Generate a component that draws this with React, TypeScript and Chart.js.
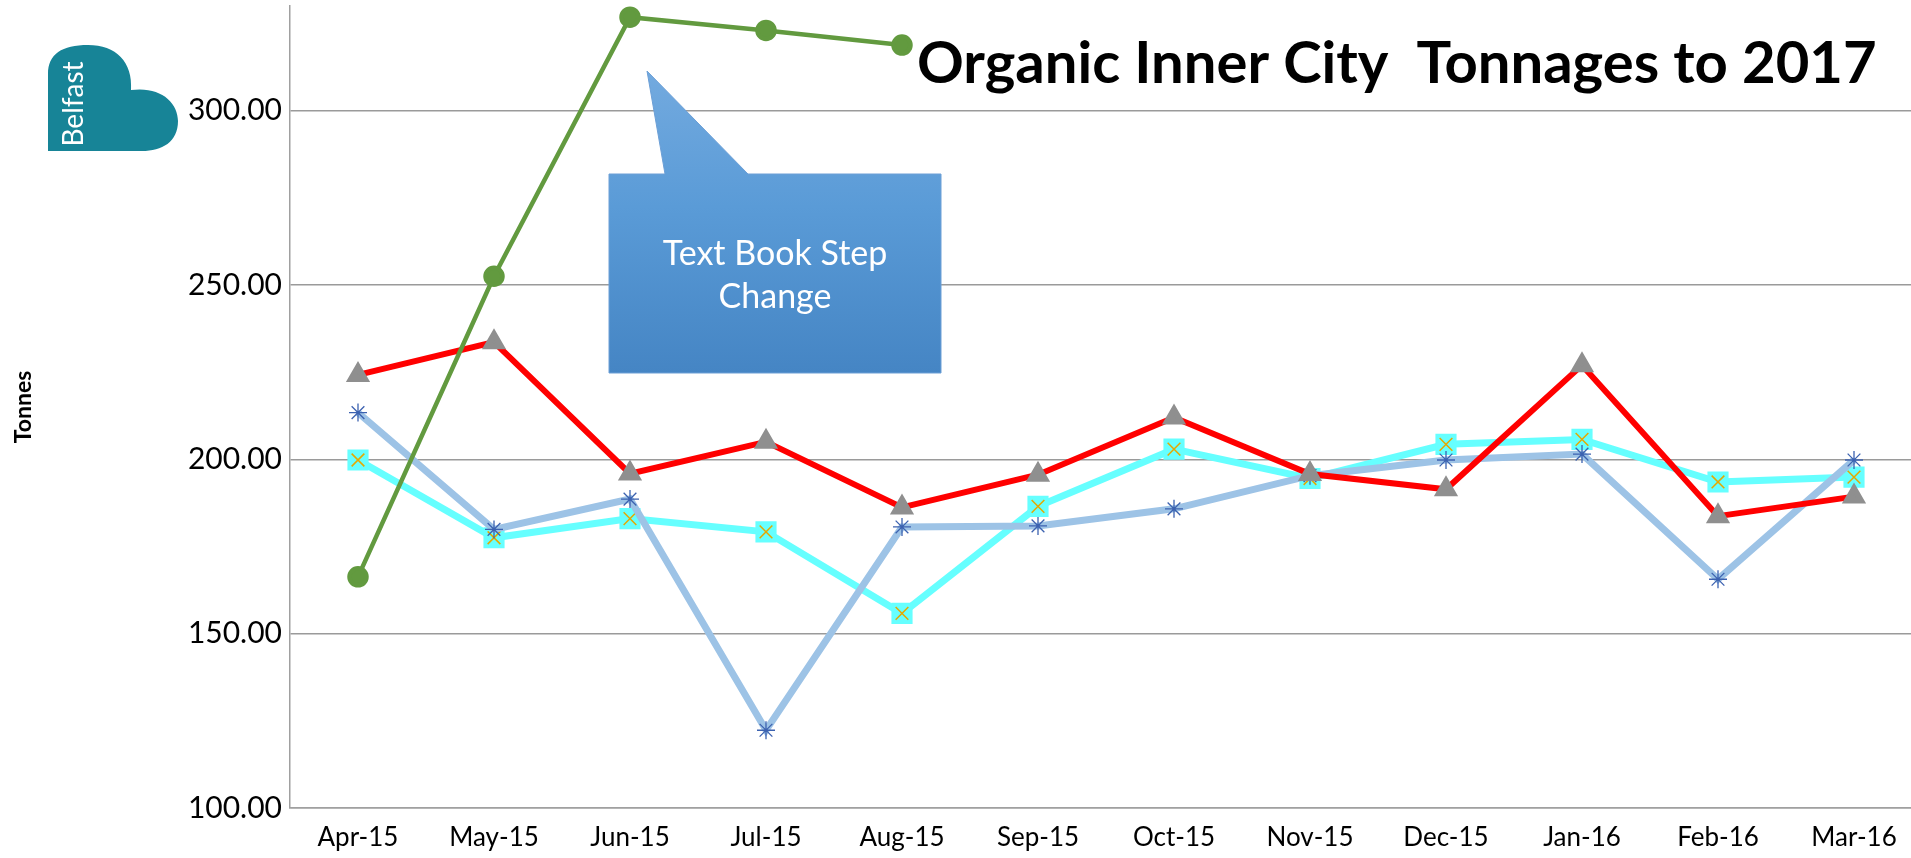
import React, { useEffect, useRef } from "react";
import { Chart, registerables } from "chart.js";

Chart.register(...registerables);

const categories = ["Apr-15", "May-15", "Jun-15", "Jul-15", "Aug-15", "Sep-15", "Oct-15", "Nov-15", "Dec-15", "Jan-16", "Feb-16", "Mar-16"];
const greenSeries = [166.3, 252.5, 326.8, 323.0, 318.8, null, null, null, null, null, null, null];
const redSeries = [224.2, 233.6, 195.9, 205.0, 186.2, 195.6, 212.0, 195.8, 191.4, 227.0, 183.7, 189.3];
const blueSeries = [213.4, 179.9, 188.6, 122.3, 180.6, 180.9, 185.8, 195.3, 199.8, 201.5, 165.6, 199.8];
const cyanSeries = [199.8, 177.5, 183.0, 179.2, 155.8, 186.5, 202.9, 194.5, 204.3, 205.7, 193.5, 194.9];
const yTicks = [100, 150, 200, 250, 300];
const titleText = "Organic Inner City  Tonnages to 2017";
const calloutLines = ["Text Book Step", "Change"];
const axisTitle = "Tonnes";
const logoText = "Belfast";

const FONT = "Lato, Carlito, 'Open Sans', sans-serif";

const overlayPlugin = {
  id: "overlay",
  afterDraw(chart: any) {
    const ctx: CanvasRenderingContext2D = chart.ctx;
    ctx.save();
    // Logo
    ctx.fillStyle = "#178497";
    ctx.beginPath();
    ctx.moveTo(48, 151);
    ctx.lineTo(48, 74);
    ctx.bezierCurveTo(48, 54, 62, 45, 88, 45);
    ctx.bezierCurveTo(116, 45, 133, 62, 131, 90);
    ctx.bezierCurveTo(160, 86, 178, 102, 178, 121);
    ctx.bezierCurveTo(178, 142, 162, 151, 142, 151);
    ctx.closePath();
    ctx.fill();
    ctx.translate(74, 104);
    ctx.rotate(-Math.PI / 2);
    ctx.fillStyle = "#ffffff";
    ctx.font = `28px ${FONT}`;
    ctx.textAlign = "center";
    ctx.textBaseline = "middle";
    ctx.fillText(logoText, 0, 0);
    ctx.restore();

    // Title
    ctx.save();
    ctx.fillStyle = "#000000";
    ctx.font = `bold 58px ${FONT}`;
    ctx.textAlign = "left";
    ctx.textBaseline = "alphabetic";
    ctx.fillText(titleText, 917, 83);
    ctx.restore();

    // Callout
    ctx.save();
    const grad = ctx.createLinearGradient(0, 71, 0, 373);
    grad.addColorStop(0, "#73aadf");
    grad.addColorStop(0.45, "#5a9bd7");
    grad.addColorStop(1, "#4585c4");
    ctx.fillStyle = grad;
    ctx.beginPath();
    ctx.moveTo(609, 174);
    ctx.lineTo(665, 174);
    ctx.lineTo(647, 71);
    ctx.lineTo(748, 174);
    ctx.lineTo(941, 174);
    ctx.lineTo(941, 373);
    ctx.lineTo(609, 373);
    ctx.closePath();
    ctx.fill();
    ctx.strokeStyle = "#6c9fd6";
    ctx.lineWidth = 1;
    ctx.stroke();
    ctx.fillStyle = "#ffffff";
    ctx.font = `34px ${FONT}`;
    ctx.textAlign = "center";
    ctx.textBaseline = "middle";
    ctx.fillText(calloutLines[0], 775, 254);
    ctx.fillText(calloutLines[1], 775, 297);
    ctx.restore();
  },
};

export default function App() {
  const ref = useRef<HTMLCanvasElement | null>(null);
  useEffect(() => {
    document.body.style.margin = "0";
    document.body.style.overflow = "hidden";
    const canvas = ref.current!;
    const chart = new Chart(canvas, {
      type: "line",
      data: {
        labels: categories,
        datasets: [
          {
            label: "Green",
            data: greenSeries,
            borderColor: "#629a3f",
            backgroundColor: "#629a3f",
            borderWidth: 4.5,
            pointStyle: "circle",
            pointRadius: 8.5,
            pointBackgroundColor: "#629a3f",
            pointBorderColor: "#629a3f",
            spanGaps: false,
            clip: false,
          } as any,
          {
            label: "Red",
            data: redSeries,
            borderColor: "#ff0000",
            borderWidth: 6,
            pointStyle: "triangle",
            pointRadius: 8,
            pointBackgroundColor: "#8f8f8f",
            pointBorderColor: "#8f8f8f",
            clip: false,
          } as any,
          {
            label: "Blue",
            data: blueSeries,
            borderColor: "#9dc3e6",
            borderWidth: 7,
            pointStyle: "star",
            pointRadius: 9,
            pointBorderWidth: 1.3,
            pointBackgroundColor: "#3c62b0",
            pointBorderColor: "#3c62b0",
            clip: false,
          } as any,
          {
            label: "CyanX",
            data: cyanSeries,
            showLine: false,
            borderColor: "#e6a800",
            pointStyle: "crossRot",
            pointRadius: 9,
            pointBorderWidth: 1.5,
            pointBorderColor: "#e6a800",
            pointBackgroundColor: "#e6a800",
            clip: false,
          } as any,
          {
            label: "Cyan",
            data: cyanSeries,
            borderColor: "#66ffff",
            borderWidth: 7,
            pointStyle: "rect",
            pointRadius: 10,
            pointBackgroundColor: "#66ffff",
            pointBorderColor: "#66ffff",
            clip: false,
          } as any,
        ],
      },
      options: {
        responsive: false,
        animation: false,
        devicePixelRatio: 1,
        layout: { autoPadding: false, padding: { top: 6, right: 0, left: 0, bottom: 0 } },
        plugins: {
          legend: { display: false },
          title: { display: false },
          tooltip: { enabled: false },
        },
        elements: { line: { tension: 0 } },
        scales: {
          x: {
            type: "category",
            offset: true,
            grid: { display: false, drawTicks: false },
            border: { display: true, color: "#a0a0a0", width: 1.5 },
            ticks: {
              color: "#000000",
              font: { family: FONT, size: 26 },
              padding: 14,
              maxRotation: 0,
              autoSkip: false,
            },
            afterFit: (scale: any) => {
              scale.height = 50;
              scale.paddingLeft = 0;
              scale.paddingRight = 0;
            },
          },
          y: {
            min: 100,
            max: 330,
            grid: { color: "#9a9a9a", lineWidth: 1.5, drawTicks: false },
            border: { display: true, color: "#a0a0a0", width: 1.5 },
            afterBuildTicks: (scale: any) => {
              scale.ticks = yTicks.map((v) => ({ value: v }));
            },
            ticks: {
              color: "#000000",
              font: { family: FONT, size: 30 },
              padding: 8,
              callback: (v: any) => Number(v).toFixed(2),
            },
            title: {
              display: true,
              text: axisTitle,
              color: "#000000",
              font: { family: FONT, size: 23, weight: "bold" },
              padding: { top: 10, bottom: 0 },
            },
            afterFit: (scale: any) => {
              scale.width = 290;
              scale.paddingTop = 0;
              scale.paddingBottom = 0;
            },
          },
        },
      } as any,
      plugins: [overlayPlugin],
    });
    return () => chart.destroy();
  }, []);
  return (
    <div style={{ width: 1911, height: 858, position: "relative", overflow: "hidden", background: "#ffffff" }}>
      <canvas ref={ref} width={1922} height={858} style={{ display: "block" }} />
    </div>
  );
}
